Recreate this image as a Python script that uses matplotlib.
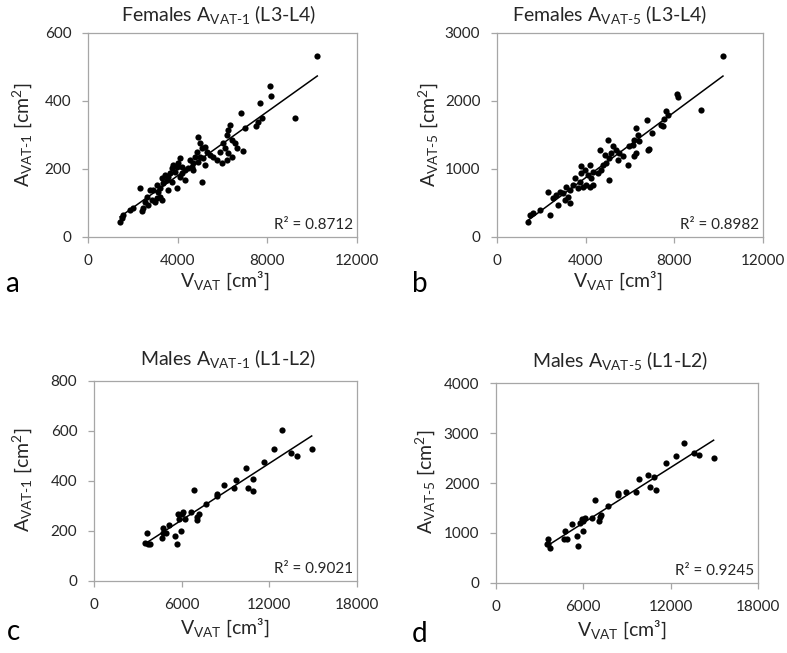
import numpy as np
import matplotlib
matplotlib.use("Agg")
import matplotlib.pyplot as plt

plt.rcParams['font.family'] = ['Lato', 'DejaVu Sans']
plt.rcParams['mathtext.fontset'] = 'custom'
plt.rcParams['mathtext.rm'] = 'Lato'
plt.rcParams['mathtext.it'] = 'Lato'
plt.rcParams['mathtext.default'] = 'regular'

# ---------------- data ----------------
fa_x = [6334, 6260, 6186, 6409, 6557, 6632, 6037, 6111, 5888, 6260, 6409, 6186, 5962, 5739, 5591,
        5442, 5293, 5219, 5070, 4922, 4996, 4847, 4996, 5145, 5219, 4922, 4773, 4699, 4550, 4624,
        4699, 4476, 4327, 4178, 4029, 4104, 3955, 3806, 3732, 3881, 3658, 3583, 3435, 3509, 3732,
        4104, 4327, 4178, 3286, 3360, 3212, 3063, 2914, 2765, 3137, 3212, 3063, 2989, 2840, 2617,
        2542, 2691, 2319, 3286, 2468, 2022, 1873, 2394, 1576, 1427, 1502, 5070, 3955, 3583,
        6809, 6898, 7002, 7478, 7567, 7671, 7775, 8117, 8147, 9232, 10228]
fa_y = [329, 315, 300, 285, 275, 261, 275, 261, 251, 246, 236, 226, 217, 226, 236,
        241, 251, 266, 261, 295, 275, 251, 236, 231, 212, 222, 236, 217, 226, 207,
        197, 202, 197, 207, 217, 231, 207, 212, 202, 192, 187, 177, 182, 168, 163,
        177, 168, 187, 173, 158, 143, 153, 138, 138, 133, 119, 114, 104, 109, 119,
        104, 94, 143, 109, 84, 84, 79, 77, 65, 45, 55, 163, 143, 138,
        364, 252, 322, 326, 339, 393, 349, 445, 416, 350, 532]

fb_x = [6273, 6347, 6198, 6422, 6796, 6123, 6273, 6198, 5973, 5898, 5674, 5524, 5449, 5374, 5225,
        5150, 5075, 5000, 4925, 4850, 4776, 4626, 4701, 4551, 4326, 4177, 4102, 3952, 3802, 3728,
        5075, 4326, 3653, 3503, 3428, 3279, 3129, 3204, 3279, 3054, 2979, 2829, 2680, 2530, 2305,
        2755, 2380, 1931, 1632, 1482, 1407, 4027, 3877, 4252, 3802, 4177,
        10194, 8113, 8143, 9191, 7619, 7694, 7544, 7394, 7469, 6766, 6990, 6870]
fb_y = [1604, 1505, 1431, 1407, 1283, 1357, 1234, 1185, 1333, 1061, 1185, 1234, 1135, 1283, 1333,
        1234, 1160, 1431, 1086, 1209, 1061, 1283, 988, 938, 963, 1061, 914, 988, 938, 815,
        840, 766, 716, 864, 766, 692, 741, 593, 495, 544, 642, 667, 618, 568, 667,
        470, 322, 396, 347, 322, 223, 766, 741, 864, 1037, 741,
        2655, 2098, 2063, 1866, 1851, 1787, 1728, 1654, 1629, 1718, 1531, 1294]

mc_x = [12846, 12321, 14899, 13463, 13919, 11636, 10404, 10860, 9718, 10563, 10906, 9582, 8897,
        8394, 8394, 7641, 6842, 7207, 7070, 7070, 6636, 6111, 5997, 5838, 5769, 6226, 5952, 5541,
        5655, 5153, 4696, 4742, 4628, 4925, 3600, 3486, 3714, 3828]
mc_y = [603, 527, 530, 514, 501, 477, 454, 410, 406, 374, 361, 374, 384,
        350, 340, 310, 364, 270, 257, 246, 277, 277, 268, 250, 268, 250, 201, 181,
        148, 224, 214, 193, 171, 191, 191, 151, 147, 148]

md_x = [12932, 12382, 11694, 13574, 13918, 14950, 10433, 9791, 10869, 10594, 10983, 9607, 8919,
        8369, 8415, 7681, 6833, 7200, 7108, 7154, 6581, 6122, 6008, 5778, 5893, 5205, 6008, 5594,
        5663, 4746, 4677, 4906, 3600, 3600, 3485, 3714]
md_y = [2809, 2541, 2394, 2595, 2561, 2494, 2160, 2080, 2127, 1926, 1859, 1812, 1812,
        1792, 1759, 1545, 1658, 1358, 1237, 1324, 1291, 1291, 1244, 1210, 1277, 1190, 1043, 936,
        742, 1043, 889, 889, 876, 776, 776, 702]

titles = [r"Females A$_{VAT\text{-}1}$ (L3-L4)", r"Females A$_{VAT\text{-}5}$ (L3-L4)",
          r"Males A$_{VAT\text{-}1}$ (L1-L2)", r"Males A$_{VAT\text{-}5}$ (L1-L2)"]
ylabels = [r"A$_{VAT\text{-}1}$ [cm$^2$]", r"A$_{VAT\text{-}5}$ [cm$^2$]",
           r"A$_{VAT\text{-}1}$ [cm$^2$]", r"A$_{VAT\text{-}5}$ [cm$^2$]"]
xlabel = r"V$_{VAT}$ [cm³]"
r2_texts = ["R² = 0.8712", "R² = 0.8982", "R² = 0.9021", "R² = 0.9245"]
letters = ["a", "b", "c", "d"]
xticks_f = [0, 4000, 8000, 12000]
xticks_m = [0, 6000, 12000, 18000]
yticks = [[0, 200, 400, 600], [0, 1000, 2000, 3000], [0, 200, 400, 600, 800],
          [0, 1000, 2000, 3000, 4000]]

# ---------------- layout ----------------
W, H = 787, 653
fig = plt.figure(figsize=(W / 100, H / 100), dpi=100)

def rect(l, t, r, b):
    return [l / W, 1 - b / H, (r - l) / W, (b - t) / H]

boxes = [rect(88, 33, 357, 237), rect(497, 33, 763, 237),
         rect(94, 381, 357, 581), rect(496, 383, 758, 583)]
datasets = [(fa_x, fa_y), (fb_x, fb_y), (mc_x, mc_y), (md_x, md_y)]
xts = [xticks_f, xticks_f, xticks_m, xticks_m]

title_pos = [(219, 14), (610, 14), (228, 358), (620, 360)]
ylab_pos = [(22, 135), (428, 135), (22, 480), (425, 482)]
xlab_pos = [(225, 281), (618, 281), (225, 628), (622, 630)]
letter_pos = [(12, 284), (420, 284), (14, 632), (420, 634)]

gray = '#a6a6a6'
txt = '#262626'
for i, ax_box in enumerate(boxes):
    ax = fig.add_axes(ax_box)
    x = np.array(datasets[i][0], float)
    y = np.array(datasets[i][1], float)
    ax.scatter(x, y, s=20, color='black', zorder=3, linewidths=0)
    k, c = np.polyfit(x, y, 1)
    xl = np.array([x.min(), x.max()])
    ax.plot(xl, k * xl + c, color='black', lw=1.1, zorder=2)
    ax.set_xlim(xts[i][0], xts[i][-1])
    ax.set_ylim(yticks[i][0], yticks[i][-1])
    ax.set_xticks(xts[i])
    ax.set_yticks(yticks[i])
    for s in ax.spines.values():
        s.set_color(gray)
        s.set_linewidth(0.9)
    ax.tick_params(direction='out', length=4, width=0.9, color=gray,
                   labelsize=11, labelcolor=txt, pad=8)
    ax.text(0.985, 0.06, r2_texts[i], transform=ax.transAxes, ha='right', va='center',
            fontsize=11, color=txt)
    fig.text(title_pos[i][0] / W, 1 - title_pos[i][1] / H, titles[i], ha='center',
             va='center', fontsize=14, color=txt)
    fig.text(ylab_pos[i][0] / W, 1 - ylab_pos[i][1] / H, ylabels[i], ha='center',
             va='center', rotation=90, fontsize=14, color=txt)
    fig.text(xlab_pos[i][0] / W, 1 - xlab_pos[i][1] / H, xlabel, ha='center',
             va='center', fontsize=14, color=txt)
    fig.text(letter_pos[i][0] / W, 1 - letter_pos[i][1] / H, letters[i], ha='center',
             va='center', fontsize=20, color='black')

fig.savefig('out.png', dpi=100)
